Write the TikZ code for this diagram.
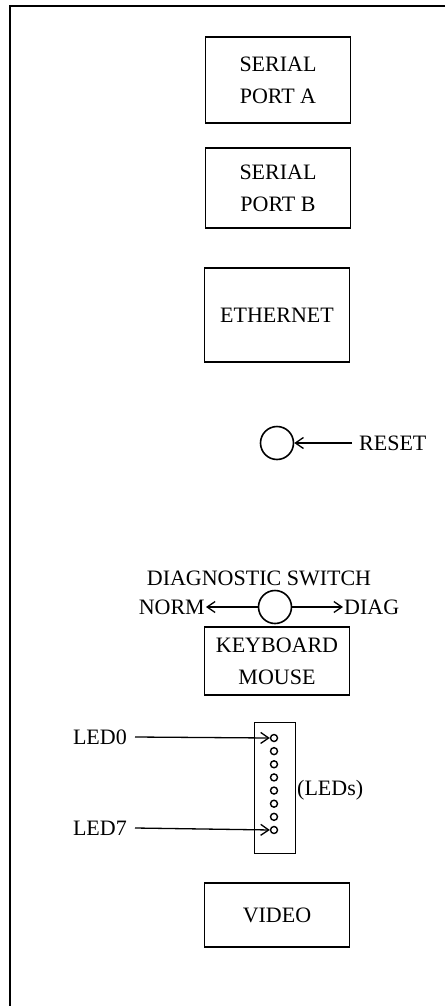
\documentclass[tikz,border=0pt]{standalone}
\usepackage{fontspec}
\setmainfont{Liberation Serif}
\usetikzlibrary{arrows.meta}
\tikzset{
  panel/.style={draw, line width=1.8pt, minimum width=145pt, inner sep=0pt, align=center, font=\fontsize{22}{32}\selectfont},
  knob/.style={draw, circle, line width=1.6pt, minimum size=33pt, inner sep=0pt},
  led/.style={draw, circle, line width=1.4pt, minimum size=7pt, inner sep=0pt},
  lbl/.style={font=\fontsize{22}{25}\selectfont, inner sep=1pt},
  ptr/.style={line width=1.3pt, -{Straight Barb[length=8pt,width=11pt,line width=1.3pt]}},
  frame/.style={line width=2.2pt}
}
\begin{document}
\begin{tikzpicture}[x=1pt,y=-1pt]
\useasboundingbox (0,0) rectangle (445,1006);
\draw[frame] (445,6) -- (10,6) -- (10,1006);
\node[panel, minimum height=86pt] (spa) at (278,80) {SERIAL\\PORT A};
\node[panel, minimum height=80pt] (spb) at (278,188) {SERIAL\\PORT B};
\node[panel, minimum height=94pt] (eth) at (277,315) {ETHERNET};
\node[knob] (reset) at (277,443) {};
\node[lbl, anchor=west] (resetl) at (358,443) {RESET};
\draw[ptr] (resetl.west) ++(-6,0) coordinate (rs) -- (reset.east);
\node[lbl] (diagsw) at (259,578) {DIAGNOSTIC SWITCH};
\node[knob] (dsw) at (275,607) {};
\node[lbl, anchor=east] (norm) at (206,607) {NORM};
\node[lbl, anchor=west] (diag) at (343,607) {DIAG};
\draw[ptr] (dsw.west) -- (norm.east);
\draw[ptr] (dsw.east) -- (diag.west);
\node[panel, minimum height=68pt] (kbd) at (277,661) {KEYBOARD\\MOUSE};
\node[draw, line width=1.8pt, minimum width=41pt, minimum height=131pt, inner sep=0pt] (ledbox) at (275,788) {};
\foreach \i in {0,...,7} {
  \node[led] (l\i) at (274,{738+\i*13.14}) {};
}
\node[lbl, anchor=east] (led0) at (128,737) {LED0};
\node[lbl, anchor=east] (led7) at (128,828) {LED7};
\draw[ptr] ([xshift=7pt]led0.east) -- (l0.west);
\draw[ptr] ([xshift=7pt]led7.east) -- (l7.west);
\node[lbl, anchor=west] (leds) at (296,790) {(LEDs)};
\node[panel, minimum height=64pt] (video) at (277,915) {VIDEO};
\end{tikzpicture}
\end{document}
